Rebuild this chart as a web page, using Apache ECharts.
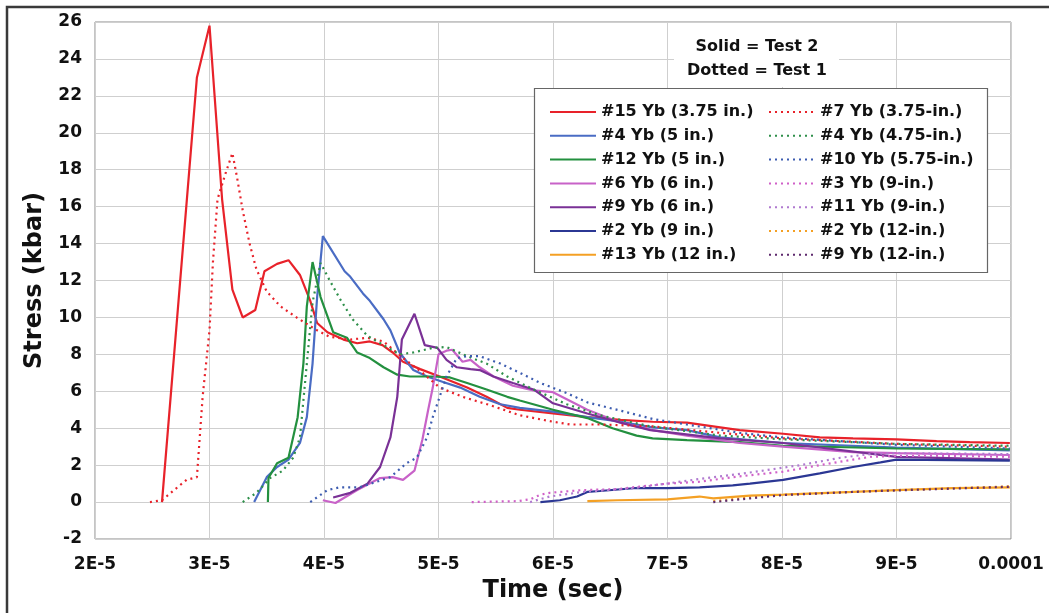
<!DOCTYPE html>
<html>
<head>
<meta charset="utf-8">
<script src="https://cdn.jsdelivr.net/npm/echarts@6/dist/echarts.min.js"></script>
<style>
html,body{margin:0;padding:0;background:#fff;}
#chart{width:1049px;height:613px;}
</style>
</head>
<body>
<div id="chart"></div>
<script>
// Time values are in units of 1E-5 s; stress in kbar.
const xTickValues = [2, 3, 4, 5, 6, 7, 8, 9, 10];
const xTickLabels = ['2E-5', '3E-5', '4E-5', '5E-5', '6E-5', '7E-5', '8E-5', '9E-5', '0.0001'];

// ---- Solid = Test 2 ----
const s15_375 = [[2.585,0],[2.89,23.0],[3.0,25.8],[3.11,16.4],[3.20,11.5],[3.29,10.0],[3.40,10.4],[3.48,12.5],[3.59,12.9],[3.69,13.1],[3.79,12.3],[3.88,10.9],[3.94,9.7],[4.03,9.2],[4.17,8.8],[4.29,8.6],[4.40,8.7],[4.51,8.5],[4.60,8.1],[4.69,7.6],[4.84,7.2],[5.01,6.8],[5.25,6.2],[5.42,5.7],[5.60,5.1],[5.71,5.0],[6.0,4.8],[6.30,4.6],[6.59,4.45],[6.87,4.35],[7.17,4.3],[7.46,4.05],[7.63,3.9],[8.01,3.7],[8.33,3.5],[8.62,3.45],[9.0,3.4],[9.35,3.3],[9.64,3.25],[9.99,3.2]];
const s4_5 = [[3.39,0],[3.50,1.35],[3.59,1.9],[3.69,2.3],[3.79,3.2],[3.85,4.6],[3.90,7.5],[3.94,11.1],[3.99,14.4],[4.18,12.5],[4.23,12.2],[4.34,11.3],[4.40,10.9],[4.52,9.9],[4.58,9.3],[4.66,8.1],[4.78,7.15],[4.90,6.8],[5.04,6.5],[5.19,6.2],[5.36,5.7],[5.54,5.3],[5.71,5.1],[6.0,4.9],[6.30,4.6],[6.59,4.35],[6.87,4.05],[7.17,3.9],[7.46,3.5],[8.01,3.2],[9.0,2.95],[9.99,2.8]];
const s12_5 = [[3.51,0],[3.515,1.3],[3.59,2.1],[3.69,2.4],[3.77,4.6],[3.82,7.5],[3.85,10.6],[3.90,13.0],[3.97,11.1],[4.08,9.2],[4.20,8.9],[4.29,8.1],[4.40,7.8],[4.52,7.3],[4.64,6.9],[4.75,6.8],[4.95,6.8],[5.10,6.75],[5.25,6.45],[5.42,6.1],[5.60,5.7],[5.71,5.5],[6.0,5.0],[6.30,4.55],[6.52,4.0],[6.73,3.6],[6.87,3.45],[7.17,3.35],[7.63,3.25],[8.01,3.05],[9.0,2.9],[9.99,2.85]];
const s6_6 = [[3.99,0.1],[4.10,-0.05],[4.29,0.65],[4.49,1.3],[4.60,1.35],[4.69,1.2],[4.79,1.7],[4.86,3.4],[4.91,5.0],[4.95,6.2],[5.0,8.0],[5.07,8.2],[5.12,8.25],[5.21,7.6],[5.28,7.7],[5.36,7.3],[5.48,6.8],[5.65,6.3],[5.83,6.05],[6.0,5.95],[6.30,5.0],[6.59,4.3],[6.87,3.9],[7.17,3.6],[7.46,3.35],[7.63,3.2],[8.01,3.0],[8.62,2.7],[9.0,2.65],[9.99,2.55]];
const s9_6 = [[4.08,0.25],[4.23,0.5],[4.38,1.0],[4.49,1.9],[4.58,3.5],[4.64,5.7],[4.68,8.8],[4.79,10.2],[4.88,8.5],[4.99,8.35],[5.07,7.7],[5.16,7.3],[5.28,7.2],[5.36,7.15],[5.48,6.8],[5.65,6.45],[5.83,6.1],[6.0,5.35],[6.30,4.8],[6.59,4.3],[6.85,3.9],[7.46,3.45],[8.01,3.2],[9.0,2.45],[9.99,2.3]];
const s2_9 = [[5.89,0],[6.06,0.1],[6.21,0.3],[6.30,0.55],[6.41,0.6],[6.70,0.75],[7.0,0.75],[7.28,0.8],[7.57,0.9],[7.72,1.0],[8.01,1.2],[8.33,1.55],[8.62,1.9],[8.86,2.15],[9.0,2.3],[9.99,2.25]];
const s13_12 = [[6.30,0.05],[6.56,0.1],[7.0,0.15],[7.28,0.3],[7.40,0.2],[7.72,0.35],[8.01,0.4],[8.62,0.55],[9.0,0.65],[9.49,0.75],[9.99,0.8]];

// ---- Dotted = Test 1 ----
const d7_375 = [[2.48,0],[2.585,0.1],[2.72,0.8],[2.80,1.2],[2.89,1.35],[2.94,5.7],[3.0,9.3],[3.03,13.0],[3.07,16.4],[3.14,17.8],[3.20,18.9],[3.24,17.6],[3.29,15.8],[3.35,14.0],[3.41,12.6],[3.50,11.4],[3.62,10.6],[3.76,10.0],[3.94,9.3],[4.05,8.95],[4.23,8.8],[4.38,8.9],[4.52,8.7],[4.69,7.8],[4.86,7.0],[5.01,6.2],[5.21,5.7],[5.45,5.25],[5.71,4.7],[6.0,4.35],[6.15,4.2],[6.44,4.2],[6.87,4.1],[7.46,3.75],[8.01,3.45],[9.0,3.15],[9.99,3.0]];
const d4_475 = [[3.29,0],[3.41,0.5],[3.53,1.3],[3.64,1.7],[3.73,2.4],[3.79,3.5],[3.85,7.5],[3.90,10.8],[3.97,12.95],[4.05,12.0],[4.14,11.0],[4.25,9.9],[4.38,9.0],[4.52,8.5],[4.66,8.0],[4.78,8.1],[4.95,8.35],[5.07,8.4],[5.25,7.9],[5.42,7.5],[5.60,6.8],[5.83,6.1],[6.12,5.3],[6.41,4.7],[6.85,4.1],[7.46,3.6],[8.01,3.4],[9.0,3.15],[9.99,3.05]];
const d10_575 = [[3.88,0],[4.03,0.65],[4.14,0.8],[4.31,0.8],[4.46,1.1],[4.58,1.35],[4.72,2.1],[4.81,2.4],[4.90,3.5],[4.95,4.6],[5.01,5.7],[5.07,6.8],[5.16,7.8],[5.25,7.9],[5.36,7.9],[5.54,7.5],[5.71,7.0],[5.89,6.45],[6.12,5.9],[6.30,5.4],[6.59,4.95],[6.87,4.5],[7.17,4.2],[7.63,3.75],[8.01,3.5],[9.0,3.1],[9.99,2.9]];
const d3_9 = [[5.29,0],[5.69,0.05],[5.80,0.15],[5.89,0.4],[5.97,0.5],[6.26,0.65],[6.56,0.7],[6.70,0.8],[7.0,1.0],[7.28,1.1],[7.57,1.35],[8.01,1.65],[8.33,2.0],[8.62,2.3],[8.77,2.45],[9.0,2.5],[9.49,2.5],[9.99,2.45]];
const d11_9 = [[5.80,0],[5.97,0.3],[6.26,0.55],[6.70,0.75],[7.28,1.25],[7.72,1.6],[8.16,2.0],[8.51,2.4],[8.77,2.6],[9.0,2.65],[9.99,2.6]];
const d2_12 = [[7.40,0.05],[7.72,0.25],[8.01,0.4],[8.62,0.55],[9.0,0.65],[9.49,0.75],[9.99,0.85]];
const d9_12 = [[7.40,0.0],[7.72,0.2],[8.01,0.38],[8.62,0.55],[9.0,0.63],[9.49,0.73],[9.99,0.83]];

const solidNames = ['#15 Yb (3.75 in.)', '#4 Yb (5 in.)', '#12 Yb (5 in.)', '#6 Yb (6 in.)', '#9 Yb (6 in.)', '#2 Yb (9 in.)', '#13 Yb (12 in.)'];
const solidData = [s15_375, s4_5, s12_5, s6_6, s9_6, s2_9, s13_12];
const solidColors = ['#e8222a', '#4a6cc4', '#23903f', '#c862c8', '#7a3196', '#2b3794', '#f4a024'];

const dottedNames = ['#7 Yb (3.75-in.)', '#4 Yb (4.75-in.)', '#10 Yb (5.75-in.)', '#3 Yb (9-in.)', '#11 Yb (9-in.)', '#2 Yb (12-in.)', '#9 Yb (12-in.)'];
const dottedData = [d7_375, d4_475, d10_575, d3_9, d11_9, d2_12, d9_12];
const dottedColors = ['#e8222a', '#2e8f4a', '#3d5cb0', '#d060c8', '#b07ad0', '#f4a024', '#5e2a6e'];

const FONT = '"DejaVu Sans", "Liberation Sans", Arial, sans-serif';

const series = [];
solidNames.forEach((n, i) => series.push({
  name: n, type: 'line', data: solidData[i], symbol: 'none', showSymbol: false, smooth: false,
  lineStyle: { color: solidColors[i], width: 2.2 }, itemStyle: { color: solidColors[i] }
}));
dottedNames.forEach((n, i) => series.push({
  name: n, type: 'line', data: dottedData[i], symbol: 'none', showSymbol: false, smooth: false,
  lineStyle: { color: dottedColors[i], width: 2.2, type: [2, 4] }, itemStyle: { color: dottedColors[i] }
}));

const legendText = { fontFamily: FONT, fontWeight: 'bold', fontSize: 16, color: '#111', lineHeight: 16 };
const legendCommon = { orient: 'vertical', top: 104, padding: 0, itemWidth: 46, itemHeight: 14, itemGap: 7.8,
  textStyle: legendText, z: 6, itemStyle: { opacity: 0, borderWidth: 0 } };

const chart = echarts.init(document.getElementById('chart'), null, { renderer: 'canvas' });
chart.setOption({
  animation: false,
  backgroundColor: '#fff',
  grid: { left: 95, right: 38, top: 22, bottom: 74, show: true, borderColor: '#8a8a8a', borderWidth: 1, backgroundColor: 'transparent' },
  xAxis: {
    type: 'value', min: 2, max: 10, interval: 1,
    name: 'Time (sec)', nameLocation: 'middle', nameGap: 40,
    nameTextStyle: { fontFamily: FONT, fontWeight: 'bold', fontSize: 24, color: '#111' },
    axisLine: { show: false }, axisTick: { show: false },
    axisLabel: { margin: 17, fontFamily: FONT, fontWeight: 'bold', fontSize: 17, color: '#111',
      formatter: v => { const k = xTickValues.findIndex(t => Math.abs(t - v) < 1e-6); return k >= 0 ? xTickLabels[k] : ''; } },
    splitLine: { show: true, lineStyle: { color: '#cfcfcf', width: 1 } }
  },
  yAxis: {
    type: 'value', min: -2, max: 26, interval: 2,
    name: 'Stress (kbar)', nameLocation: 'middle', nameGap: 48,
    nameTextStyle: { fontFamily: FONT, fontWeight: 'bold', fontSize: 24, color: '#111' },
    axisLine: { show: false }, axisTick: { show: false },
    axisLabel: { margin: 13, fontFamily: FONT, fontWeight: 'bold', fontSize: 17, color: '#111' },
    splitLine: { show: true, lineStyle: { color: '#cfcfcf', width: 1 } }
  },
  legend: [
    Object.assign({ data: solidNames, left: 549 }, legendCommon),
    Object.assign({ data: dottedNames, left: 768 }, legendCommon)
  ],
  graphic: [
    { type: 'polyline', z: 10, silent: true, shape: { points: [[7, 613], [7, 7], [1049, 7]] }, style: { stroke: '#3a3a3a', lineWidth: 2.5, fill: null } },
    { type: 'rect', z: 3, silent: true, shape: { x: 674, y: 23, width: 165, height: 64 }, style: { fill: '#fff' } },
    { type: 'text', z: 4, silent: true, style: { text: 'Solid = Test 2', x: 757, y: 47, textAlign: 'center', textVerticalAlign: 'middle', font: 'bold 16px ' + FONT, fill: '#111' } },
    { type: 'text', z: 4, silent: true, style: { text: 'Dotted = Test 1', x: 757, y: 71, textAlign: 'center', textVerticalAlign: 'middle', font: 'bold 16px ' + FONT, fill: '#111' } },
    { type: 'rect', z: 3, silent: true, shape: { x: 534.5, y: 88.5, width: 453, height: 184 }, style: { fill: '#fff', stroke: '#666', lineWidth: 1.2 } }
  ],
  series: series
});
</script>
</body>
</html>
